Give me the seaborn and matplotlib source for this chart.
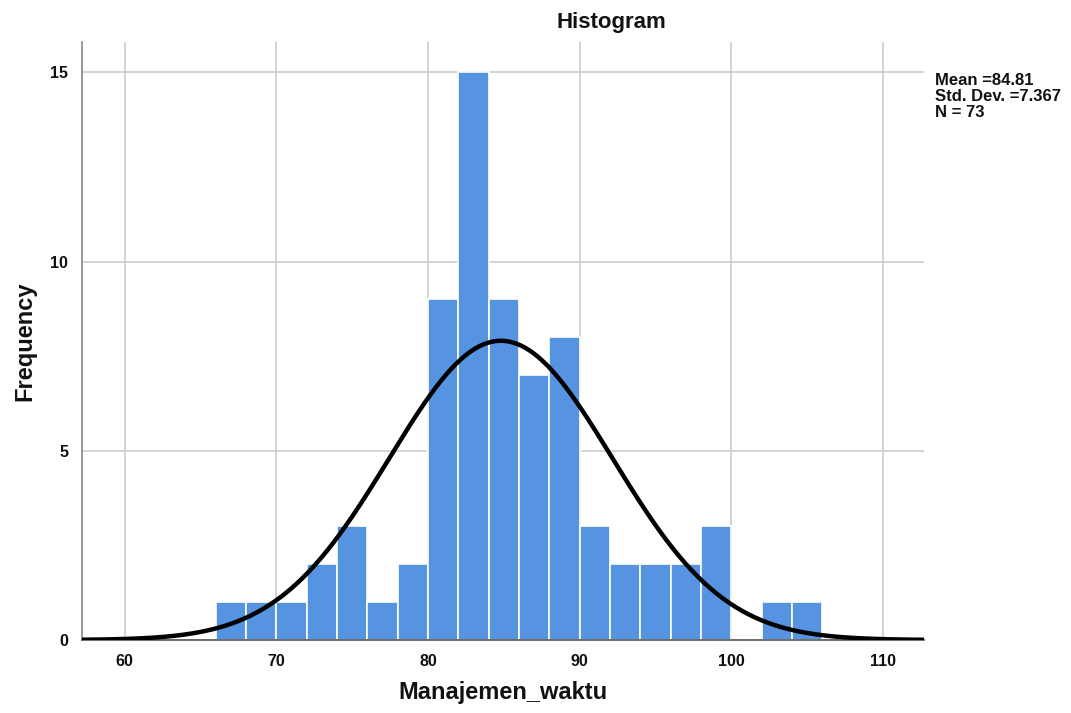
import matplotlib
matplotlib.use("Agg")
import matplotlib.pyplot as plt
import numpy as np
import seaborn as sns

# Data (SPSS histogram, bin width 2)
bin_edges = [66, 68, 70, 72, 74, 76, 78, 80, 82, 84, 86, 88, 90,
             92, 94, 96, 98, 100, 102, 104, 106]
counts = [1, 1, 1, 2, 3, 1, 2, 9, 15, 9, 7, 8, 3,
          2, 2, 2, 3, 0, 1, 1]
mean_val = 84.81
std_val = 7.367
n_val = 73
x_ticks = [60, 70, 80, 90, 100, 110]
y_ticks = [0, 5, 10, 15]

BAR_COLOR = "#5694E2"

sns.set_theme(style="white")
plt.rcParams["font.family"] = ["Liberation Sans", "DejaVu Sans"]
plt.rcParams["text.color"] = "black"

fig = plt.figure(figsize=(10.71, 7.13), dpi=100)
ax = fig.add_axes([0.0766, 0.1024, 0.7861, 0.8387])

centers = [(a + b) / 2 for a, b in zip(bin_edges[:-1], bin_edges[1:])]
sns.histplot(x=centers, weights=counts, bins=bin_edges, ax=ax,
             color=BAR_COLOR, alpha=1.0, edgecolor="white", linewidth=1.2,
             zorder=2)

# fitted normal curve scaled to counts (from the printed mean / sd / N)
xs = np.linspace(57.2, 112.7, 400)
binw = bin_edges[1] - bin_edges[0]
ys = n_val * binw / (std_val * np.sqrt(2 * np.pi)) * np.exp(-0.5 * ((xs - mean_val) / std_val) ** 2)
sns.lineplot(x=xs, y=ys, ax=ax, color="black", lw=3.2, zorder=3)

ax.set_xlim(57.2, 112.7)
ax.set_ylim(0, 15.8)
ax.set_xticks(x_ticks)
ax.set_yticks(y_ticks)
ax.grid(True, color="#c8c8c8", lw=1.1, zorder=0)
ax.set_axisbelow(True)
for s in ["top", "right"]:
    ax.spines[s].set_visible(False)
ax.spines["left"].set_color("#888888")
ax.spines["bottom"].set_color("#555555")
ax.spines["left"].set_linewidth(1.2)
ax.spines["bottom"].set_linewidth(1.2)
ax.tick_params(length=0, pad=10, labelsize=11.5, labelcolor="#111111")
for lab in ax.get_xticklabels() + ax.get_yticklabels():
    lab.set_fontweight("bold")

ax.set_xlabel("Manajemen_waktu", fontsize=17, fontweight="bold",
              color="#111111", va="center")
ax.xaxis.set_label_coords(0.5, -0.088)
ax.set_ylabel("Frequency", fontsize=17, fontweight="bold",
              color="#111111", va="center")
ax.yaxis.set_label_coords(-0.068, 0.5)
fig.text(0.571, 0.968, "Histogram", ha="center", va="center",
         fontsize=16, fontweight="bold", color="#111111")
fig.text(0.873, 0.898,
         f"Mean ={mean_val:.2f}\nStd. Dev. ={std_val:.3f}\nN = {n_val}",
         ha="left", va="top", fontsize=12, fontweight="bold",
         linespacing=1.08, color="#111111")

fig.savefig("out.png", dpi=100)
